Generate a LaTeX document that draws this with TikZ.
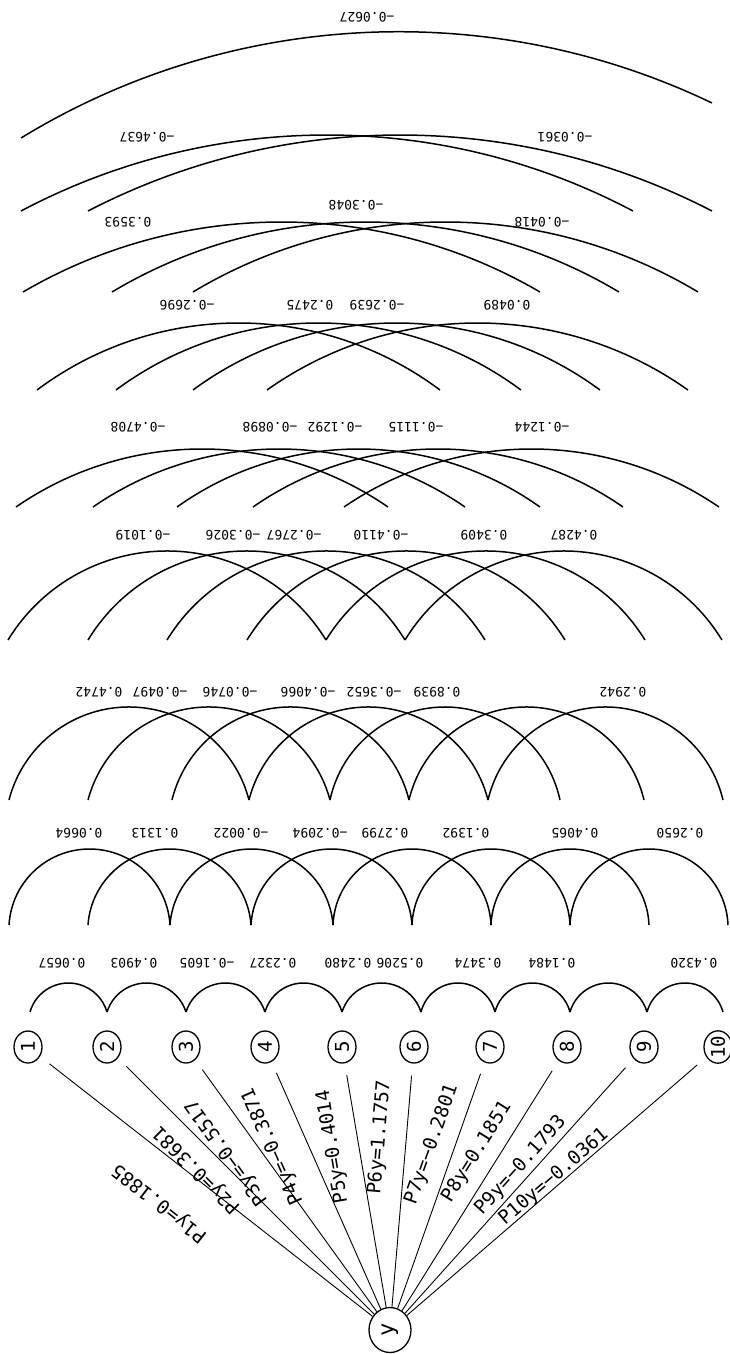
\documentclass[tikz,border=0pt]{standalone}
\usepackage{fontspec}
\usetikzlibrary{shapes.geometric}
\newfontfamily\coeffont{DejaVu Sans Mono}

% arc between two points on one base line: x1, x2, base y (px, downwards), rise
\newcommand\linkarc[4]{%
  \pgfmathsetmacro\lkc{(#2-#1)/200}%
  \pgfmathsetmacro\lkh{#4/100}%
  \pgfmathsetmacro\lkr{100*(\lkc*\lkc+\lkh*\lkh)/(2*\lkh)}%
  \pgfmathsetmacro\lka{atan2(\lkr-#4,100*\lkc)}%
  \pgfmathsetmacro\lks{180-\lka}%
  \draw[link] (#1,-#3) arc[start angle=\lks,end angle=\lka,radius=\lkr];%
}

\begin{document}
\begin{tikzpicture}[x=1pt,y=1pt,
  link/.style={draw=black,line width=1.5pt},
  coef/.style={font=\coeffont\fontsize{13}{13}\selectfont,rotate=180,inner sep=1pt},
  inp/.style={draw=black,ellipse,line width=1.3pt,minimum width=32pt,minimum height=28pt,
    inner sep=0pt,font=\coeffont\fontsize{19}{19}\selectfont,rotate=90},
  outp/.style={draw=black,ellipse,line width=1.3pt,minimum width=45pt,minimum height=42pt,
    inner sep=0pt,font=\coeffont\fontsize{22}{22}\selectfont,rotate=90},
  ray/.style={draw=black,line width=0.9pt,shorten >=12pt},
  plab/.style={inner sep=1pt,font=\coeffont\fontsize{19}{19}\selectfont},
]
\useasboundingbox (0,0) rectangle (729,-1354);

% input nodes and output
\foreach \nx [count=\i] in {28,107,186,265,342,414,490,567,644,718}
  \node[inp] (n\i) at (\nx,-1047) {\i};
\node[outp] (y) at (390,-1330) {y};

% fan of weights
\foreach \i in {1,...,10}
  \draw[ray] (y) -- (n\i);
\foreach \ang/\rr/\rot/\txt [count=\i] in {151.1/263/142/P1y=0.1885,140.3/251/135/P2y=0.3681,
    132.6/241/125.8/P3y=−0.5517,122.5/218/113.8/P4y=−0.3871,107.3/192/99.6/P5y=0.4014,
    93/193/85.2/P6y=1.1757,77.3/190/70.5/P7y=−0.2801,64/198/58/P8y=0.1851,
    51.5/210/48.1/P9y=−0.1793,43/224/40.8/P10y=−0.0361}
  \node[plab,rotate=\rot] (p\i) at ([shift={(\ang:\rr)}]y.center) {\txt};

% pair arcs, one row per distance
\foreach \xa/\xb in {30/107,107/186,186/265,265/342,342/421,421/495,495/570,570/647,647/723}
  \linkarc{\xa}{\xb}{1012}{29};
\foreach \xa/\xb in {9/170,88/251,170/333,251/412,333/491,412/570,491/649,570/728}
  \linkarc{\xa}{\xb}{925}{76};
\foreach \xa/\xb in {9/249,88/330,172/409,249/488,330/560,409/644,488/723}
  \linkarc{\xa}{\xb}{800}{93};
\foreach \xa/\xb in {8/326,88/405,167/485,247/565,326/645,405/722}
  \linkarc{\xa}{\xb}{640}{89};
\foreach \xa/\xb in {16/388,93/465,177/540,253/623,344/719}
  \linkarc{\xa}{\xb}{507}{58};
\foreach \xa/\xb in {37/440,116/521,193/600,267/688}
  \linkarc{\xa}{\xb}{390}{67};
\foreach \xa/\xb in {23/540,112/619,193/698}
  \linkarc{\xa}{\xb}{292}{70};
\foreach \xa/\xb in {21/633,88/712}
  \linkarc{\xa}{\xb}{211}{76};
\draw[link] (21,-138) arc[start angle=121.44,end angle=64.36,radius=724.1];

% coefficients
\foreach \lx/\lv [count=\i] in {62/0.0657,134/0.4903,207/−0.1605,273/0.2327,348/0.2480,
    400/0.5206,478/0.3474,552/0.1484,694/0.4320}
  \node[coef] (a1-\i) at (\lx,-963) {\lv};
\foreach \lx/\lv [count=\i] in {79/0.0664,155/0.1313,241/−0.0022,320/−0.2094,385/0.2799,
    466/0.1392,575/0.4065,680/0.2650}
  \node[coef] (a2-\i) at (\lx,-833) {\lv};
\foreach \lx/\lv [count=\i] in {99/0.4742,160/−0.0497,230/−0.0746,308/−0.4066,374/−0.3652,
    437/0.8939,623/0.2942}
  \node[coef] (a3-\i) at (\lx,-692) {\lv};
\foreach \lx/\lv [count=\i] in {143/−0.1019,233/−0.3026,294/−0.2767,381/−0.4110,484/0.3409,
    574/0.4287}
  \node[coef] (a4-\i) at (\lx,-535) {\lv};
\foreach \lx/\lv [count=\i] in {138/−0.4708,270/−0.0898,335/−0.1292,416/−0.1115,542/−0.1244}
  \node[coef] (a5-\i) at (\lx,-427) {\lv};
\foreach \lx/\lv [count=\i] in {187/−0.2696,310/0.2475,377/−0.2639,507/0.0489}
  \node[coef] (a6-\i) at (\lx,-305) {\lv};
\node[coef] (a7-1) at (128,-222) {0.3593};
\node[coef] (a7-2) at (356,-205) {−0.3048};
\node[coef] (a7-3) at (542,-222) {−0.0418};
\node[coef] (a8-1) at (147,-137) {−0.4637};
\node[coef] (a8-2) at (565,-137) {−0.0361};
\node[coef] (a9-1) at (367,-17) {−0.0627};
\end{tikzpicture}
\end{document}
